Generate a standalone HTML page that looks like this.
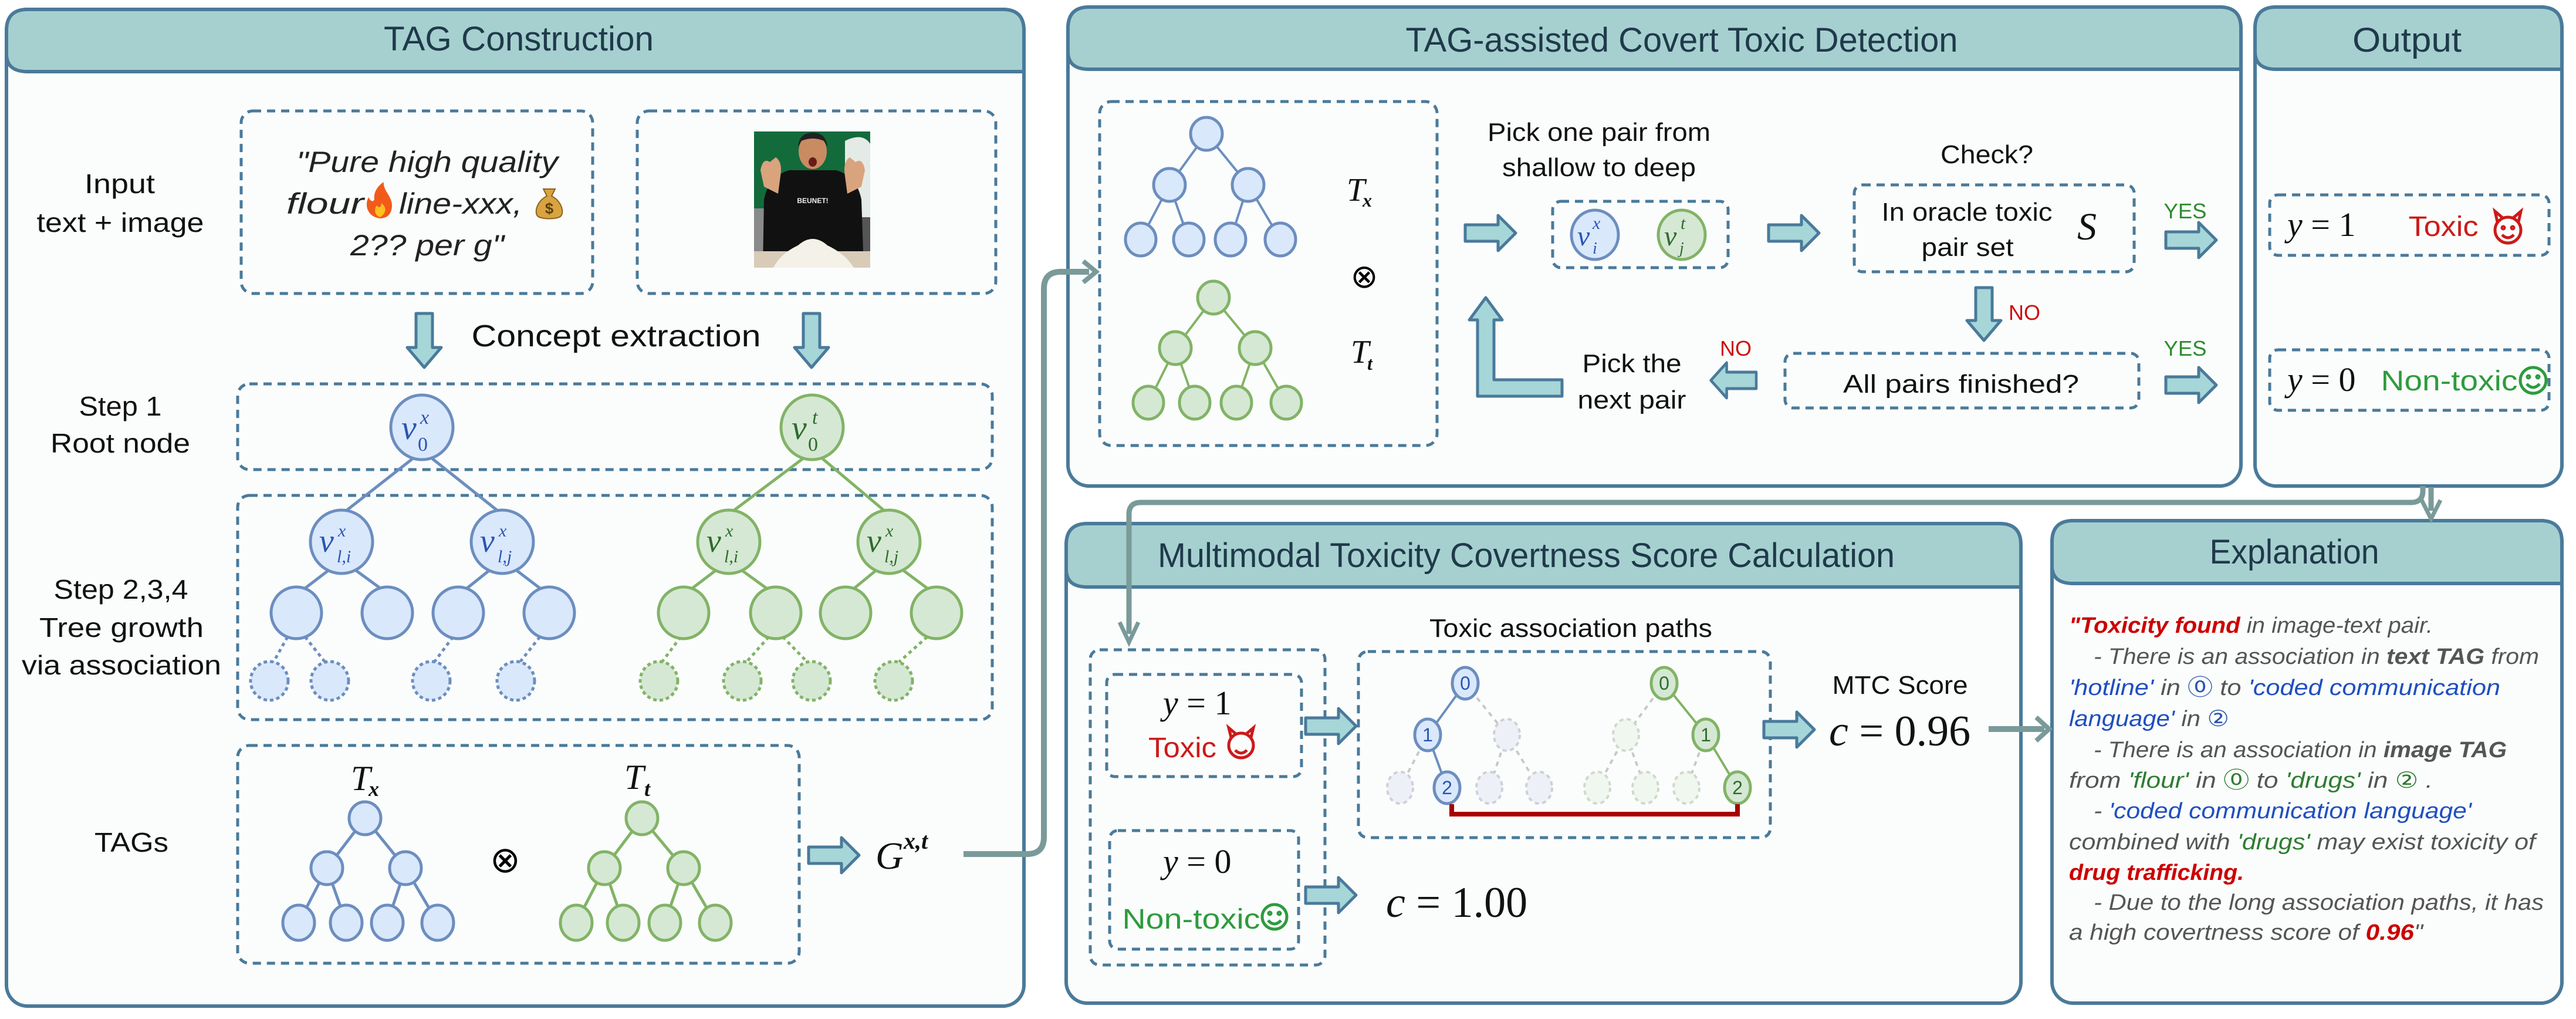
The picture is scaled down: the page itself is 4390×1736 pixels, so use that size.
<!DOCTYPE html>
<html><head><meta charset="utf-8"><style>
html,body{margin:0;padding:0;background:#fff}
svg{display:block}
.s{font-family:"Liberation Sans Narrow","Liberation Sans",sans-serif}
.m{font-family:"Liberation Serif",serif;font-style:italic}
.h{font-size:58px;fill:#1f3a4a}
.t{font-size:46px;fill:#111}
.e{font-family:"Liberation Sans Narrow","Liberation Sans",sans-serif;font-style:italic;font-size:38px;fill:#555}
</style></head><body>
<svg width="4390" height="1736" viewBox="0 0 4390 1736" xmlns="http://www.w3.org/2000/svg">
<defs>
<g id="ar"><path d="M0,-14 L56,-14 L56,-30 L86,0 L56,30 L56,14 L0,14 Z" fill="#a6d6d8" stroke="#4a7a9a" stroke-width="5" stroke-linejoin="round"/></g>
</defs>
<!-- panels -->
<g stroke="#4a7a9a" stroke-width="6">
<rect x="11" y="16" width="1734" height="1698" rx="36" fill="#fbfdfc"/>
<path d="M11,122 L11,52 Q11,16 47,16 L1709,16 Q1745,16 1745,52 L1745,122 Q1745,122 1709,122 L47,122 Q11,122 11,92Z" fill="#a6d0d0"/>
<rect x="1820" y="12" width="1999" height="816" rx="36" fill="#fbfdfc"/>
<path d="M1820,118 L1820,48 Q1820,12 1856,12 L3783,12 Q3819,12 3819,48 L3819,118 L1856,118 Q1820,118 1820,88Z" fill="#a6d0d0"/>
<rect x="3843" y="12" width="523" height="816" rx="36" fill="#fbfdfc"/>
<path d="M3843,118 L3843,48 Q3843,12 3879,12 L4330,12 Q4366,12 4366,48 L4366,118 L3879,118 Q3843,118 3843,88Z" fill="#a6d0d0"/>
<rect x="1817" y="892" width="1627" height="817" rx="36" fill="#fbfdfc"/>
<path d="M1817,1000 L1817,928 Q1817,892 1853,892 L3408,892 Q3444,892 3444,928 L3444,1000 L1853,1000 Q1817,1000 1817,970Z" fill="#a6d0d0"/>
<rect x="3497" y="887" width="869" height="822" rx="36" fill="#fbfdfc"/>
<path d="M3497,994 L3497,923 Q3497,887 3533,887 L4330,887 Q4366,887 4366,923 L4366,994 L3533,994 Q3497,994 3497,964Z" fill="#a6d0d0"/>
</g>
<g class="s h" text-anchor="middle">
<text x="884" y="86" textLength="460" lengthAdjust="spacingAndGlyphs">TAG Construction</text>
<text x="2866" y="88" textLength="941" lengthAdjust="spacingAndGlyphs">TAG-assisted Covert Toxic Detection</text>
<text x="4102" y="88" textLength="186" lengthAdjust="spacingAndGlyphs">Output</text>
<text x="2601" y="966" textLength="1256" lengthAdjust="spacingAndGlyphs">Multimodal Toxicity Covertness Score Calculation</text>
<text x="3910" y="960" textLength="289" lengthAdjust="spacingAndGlyphs">Explanation</text>
</g>

<!-- dashed boxes -->
<g fill="none" stroke="#4a7a9a" stroke-width="5" stroke-dasharray="14 10">
<rect x="411" y="189" width="599" height="311" rx="20"/>
<rect x="1086" y="189" width="611" height="311" rx="20"/>
<rect x="405" y="654" width="1286" height="146" rx="20"/>
<rect x="405" y="844" width="1286" height="382" rx="20"/>
<rect x="405" y="1270" width="957" height="371" rx="20"/>
<rect x="1874" y="173" width="575" height="586" rx="20"/>
<rect x="2646" y="343" width="299" height="113" rx="14"/>
<rect x="3160" y="315" width="477" height="148" rx="14"/>
<rect x="3042" y="602" width="603" height="93" rx="14"/>
<rect x="3868" y="332" width="476" height="103" rx="14"/>
<rect x="3868" y="596" width="476" height="103" rx="14"/>
<rect x="1858" y="1107" width="400" height="537" rx="16"/>
<rect x="1886" y="1149" width="332" height="174" rx="14"/>
<rect x="1891" y="1415" width="322" height="202" rx="14"/>
<rect x="2315" y="1110" width="702" height="317" rx="16"/>
</g>

<!-- TAG construction labels -->
<g class="s t" text-anchor="middle">
<text x="204" y="329" textLength="120" lengthAdjust="spacingAndGlyphs">Input</text>
<text x="205" y="395" textLength="285" lengthAdjust="spacingAndGlyphs">text + image</text>
<text x="205" y="708" textLength="141" lengthAdjust="spacingAndGlyphs">Step 1</text>
<text x="205" y="771" textLength="238" lengthAdjust="spacingAndGlyphs">Root node</text>
<text x="206" y="1020" textLength="229" lengthAdjust="spacingAndGlyphs">Step 2,3,4</text>
<text x="207" y="1085" textLength="280" lengthAdjust="spacingAndGlyphs">Tree growth</text>
<text x="207" y="1149" textLength="340" lengthAdjust="spacingAndGlyphs">via association</text>
<text x="224" y="1451" textLength="126" lengthAdjust="spacingAndGlyphs">TAGs</text>
<text x="1050" y="590" font-size="52" textLength="493" lengthAdjust="spacingAndGlyphs">Concept extraction</text>
</g>
<g class="s" font-style="italic" font-size="50" fill="#222">
<text x="505" y="293" textLength="446" lengthAdjust="spacingAndGlyphs">"Pure high quality</text>
<text x="488" y="364" textLength="132" lengthAdjust="spacingAndGlyphs">flour</text>
<text x="680" y="364" textLength="210" lengthAdjust="spacingAndGlyphs">line-xxx,</text>
<text x="597" y="435" textLength="262" lengthAdjust="spacingAndGlyphs">2?? per g"</text>
</g>
<!-- fire -->
<path d="M648,372 C628,370 620,352 628,336 C632,344 636,344 638,340 C636,328 644,316 654,310 C652,324 668,334 668,350 C668,364 660,372 648,372Z" fill="#f25a1a"/>
<path d="M648,370 C640,368 636,358 642,350 C646,356 650,352 650,346 C658,352 660,362 648,370Z" fill="#ffc020"/>
<!-- money bag -->
<path d="M926,322 L946,322 L940,334 C956,342 962,360 956,368 C950,374 922,374 916,368 C910,360 916,342 932,334Z" fill="#d9a340" stroke="#8a6420" stroke-width="2"/>
<text x="936" y="364" font-family="Liberation Sans" font-size="26" font-weight="bold" fill="#5a4010" text-anchor="middle">$</text>
<!-- image -->
<g>
<rect x="1285" y="224" width="198" height="232" fill="#136b3c"/>
<path d="M1440,240 Q1470,225 1483,245 L1483,370 L1440,370Z" fill="#e4ebe7"/>
<rect x="1285" y="355" width="24" height="80" fill="#8a8a8a"/>
<rect x="1455" y="370" width="28" height="70" fill="#555"/>
<path d="M1300,456 L1302,340 Q1310,300 1345,290 L1425,290 Q1460,300 1468,340 L1472,456Z" fill="#111"/>
<ellipse cx="1385" cy="258" rx="24" ry="30" fill="#c98b62"/>
<path d="M1360,250 Q1362,226 1385,226 Q1408,226 1410,250 L1404,240 Q1385,232 1366,240Z" fill="#222"/>
<ellipse cx="1385" cy="276" rx="7" ry="8" fill="#6a1a1a"/>
<path d="M1302,318 L1296,290 Q1300,268 1312,276 L1322,268 Q1334,276 1330,300 L1326,330Z" fill="#d9a37e"/>
<path d="M1468,318 L1474,290 Q1470,268 1458,276 L1448,268 Q1436,276 1440,300 L1444,330Z" fill="#d9a37e"/>
<text x="1385" y="346" font-family="Liberation Sans" font-weight="bold" font-size="12" fill="#eee" text-anchor="middle">BEUNET!</text>
<rect x="1285" y="428" width="198" height="28" fill="#d8cbb8"/>
<path d="M1318,456 Q1330,432 1360,418 Q1385,396 1410,418 Q1440,432 1455,456Z" fill="#f4f1e8"/>
</g>
<!-- down arrows -->
<g fill="#a6d6d8" stroke="#4a7a9a" stroke-width="5" stroke-linejoin="round">
<path d="M709,534 L737,534 L737,592 L752,592 L723,626 L694,592 L709,592Z"/>
<path d="M1369,534 L1397,534 L1397,592 L1412,592 L1383,626 L1354,592 L1369,592Z"/>
<path d="M3367,490 L3395,490 L3395,546 L3410,546 L3381,580 L3352,546 L3367,546Z"/>
<path d="M2532,507 L2560,545 L2546,545 L2546,647 L2662,647 L2662,675 L2518,675 L2518,545 L2504,545Z"/>
</g>

<!-- big trees -->
<g stroke="#6c8ebf" stroke-width="5" fill="none">
<line x1="705" y1="780" x2="590" y2="870"/><line x1="735" y1="780" x2="848" y2="870"/>
<line x1="562" y1="970" x2="520" y2="1002"/><line x1="604" y1="970" x2="648" y2="1002"/>
<line x1="836" y1="970" x2="796" y2="1002"/><line x1="878" y1="970" x2="920" y2="1002"/>
<g stroke-dasharray="6 6"><line x1="490" y1="1085" x2="466" y2="1128"/><line x1="520" y1="1085" x2="554" y2="1128"/><line x1="772" y1="1085" x2="740" y2="1128"/><line x1="920" y1="1085" x2="886" y2="1128"/></g>
</g>
<g stroke="#82b366" stroke-width="5" fill="none">
<line x1="1370" y1="780" x2="1250" y2="870"/><line x1="1400" y1="780" x2="1507" y2="870"/>
<line x1="1222" y1="970" x2="1180" y2="1002"/><line x1="1262" y1="970" x2="1306" y2="1002"/>
<line x1="1495" y1="970" x2="1456" y2="1002"/><line x1="1537" y1="970" x2="1580" y2="1002"/>
<g stroke-dasharray="6 6"><line x1="1160" y1="1085" x2="1128" y2="1128"/><line x1="1310" y1="1085" x2="1272" y2="1128"/><line x1="1334" y1="1085" x2="1376" y2="1128"/><line x1="1580" y1="1085" x2="1532" y2="1128"/></g>
</g>
<g fill="#dae8fc" stroke="#6c8ebf" stroke-width="5">
<ellipse cx="719" cy="728" rx="53" ry="55"/>
<ellipse cx="582" cy="923" rx="53" ry="54"/><ellipse cx="856" cy="923" rx="53" ry="54"/>
<ellipse cx="505" cy="1044" rx="43" ry="44"/><ellipse cx="660" cy="1044" rx="43" ry="44"/><ellipse cx="781" cy="1044" rx="43" ry="44"/><ellipse cx="936" cy="1044" rx="43" ry="44"/>
<g stroke-dasharray="6 5"><ellipse cx="459" cy="1160" rx="32" ry="33"/><ellipse cx="562" cy="1160" rx="32" ry="33"/><ellipse cx="735" cy="1160" rx="32" ry="33"/><ellipse cx="879" cy="1160" rx="32" ry="33"/></g>
</g>
<g fill="#d5e8d4" stroke="#82b366" stroke-width="5">
<ellipse cx="1384" cy="728" rx="53" ry="55"/>
<ellipse cx="1242" cy="923" rx="53" ry="54"/><ellipse cx="1515" cy="923" rx="53" ry="54"/>
<ellipse cx="1165" cy="1044" rx="43" ry="44"/><ellipse cx="1322" cy="1044" rx="43" ry="44"/><ellipse cx="1441" cy="1044" rx="43" ry="44"/><ellipse cx="1596" cy="1044" rx="43" ry="44"/>
<g stroke-dasharray="6 5"><ellipse cx="1123" cy="1160" rx="32" ry="33"/><ellipse cx="1265" cy="1160" rx="32" ry="33"/><ellipse cx="1383" cy="1160" rx="32" ry="33"/><ellipse cx="1523" cy="1160" rx="32" ry="33"/></g>
</g>
<g class="m" fill="#2a55b0">
<text x="684" y="748" font-size="58">v</text><text x="716" y="722" font-size="34">x</text><text x="712" y="768" font-size="34" font-style="normal">0</text>
<text x="544" y="940" font-size="56">v</text><text x="576" y="914" font-size="30">x</text><text x="574" y="958" font-size="30">l,i</text>
<text x="818" y="940" font-size="56">v</text><text x="850" y="914" font-size="30">x</text><text x="848" y="958" font-size="30">l,j</text>
</g>
<g class="m" fill="#2e6b2e">
<text x="1349" y="748" font-size="58">v</text><text x="1384" y="722" font-size="34">t</text><text x="1377" y="768" font-size="34" font-style="normal">0</text>
<text x="1204" y="940" font-size="56">v</text><text x="1236" y="914" font-size="30">x</text><text x="1234" y="958" font-size="30">l,i</text>
<text x="1477" y="940" font-size="56">v</text><text x="1509" y="914" font-size="30">x</text><text x="1507" y="958" font-size="30">l,j</text>
</g>

<!-- small trees (TAGs) -->
<g stroke="#6c8ebf" stroke-width="5"><line x1="622" y1="1394" x2="557" y2="1479"/><line x1="622" y1="1394" x2="691" y2="1479"/><line x1="557" y1="1479" x2="509" y2="1572"/><line x1="557" y1="1479" x2="590" y2="1572"/><line x1="691" y1="1479" x2="660" y2="1572"/><line x1="691" y1="1479" x2="746" y2="1572"/></g>
<g fill="#dae8fc" stroke="#6c8ebf" stroke-width="5"><ellipse cx="622" cy="1394" rx="27" ry="28"/><ellipse cx="557" cy="1479" rx="27" ry="28"/><ellipse cx="691" cy="1479" rx="27" ry="28"/><ellipse cx="509" cy="1572" rx="27" ry="30"/><ellipse cx="590" cy="1572" rx="27" ry="30"/><ellipse cx="660" cy="1572" rx="27" ry="30"/><ellipse cx="746" cy="1572" rx="27" ry="30"/></g>
<g stroke="#82b366" stroke-width="5"><line x1="1094" y1="1394" x2="1030" y2="1479"/><line x1="1094" y1="1394" x2="1165" y2="1479"/><line x1="1030" y1="1479" x2="982" y2="1572"/><line x1="1030" y1="1479" x2="1062" y2="1572"/><line x1="1165" y1="1479" x2="1133" y2="1572"/><line x1="1165" y1="1479" x2="1219" y2="1572"/></g>
<g fill="#d5e8d4" stroke="#82b366" stroke-width="5"><ellipse cx="1094" cy="1394" rx="27" ry="28"/><ellipse cx="1030" cy="1479" rx="27" ry="28"/><ellipse cx="1165" cy="1479" rx="27" ry="28"/><ellipse cx="982" cy="1572" rx="27" ry="30"/><ellipse cx="1062" cy="1572" rx="27" ry="30"/><ellipse cx="1133" cy="1572" rx="27" ry="30"/><ellipse cx="1219" cy="1572" rx="27" ry="30"/></g>
<g class="m" fill="#111">
<text x="598" y="1346" font-size="60">T</text><text x="628" y="1356" font-size="36" font-weight="bold">x</text>
<text x="1064" y="1344" font-size="60">T</text><text x="1098" y="1356" font-size="36" font-weight="bold">t</text>
<text x="1492" y="1480" font-size="66">G</text><text x="1540" y="1446" font-size="40" font-weight="bold">x,t</text>
</g>
<text x="861" y="1486" font-family="DejaVu Sans" font-size="62" text-anchor="middle">⊗</text>
<use href="#ar" x="1378" y="1457"/>
<!-- connector G -> detection -->
<path d="M1642,1455 L1750,1455 Q1779,1455 1779,1426 L1779,492 Q1779,463 1808,463 L1856,463" fill="none" stroke="#7a9a9a" stroke-width="10"/>
<path d="M1846,445 L1868,463 L1846,481" fill="none" stroke="#7a9a9a" stroke-width="8"/>

<!-- detection trees -->
<g stroke="#6c8ebf" stroke-width="4"><line x1="2056" y1="228" x2="1993" y2="315"/><line x1="2056" y1="228" x2="2127" y2="315"/><line x1="1993" y1="315" x2="1944" y2="408"/><line x1="1993" y1="315" x2="2026" y2="408"/><line x1="2127" y1="315" x2="2097" y2="408"/><line x1="2127" y1="315" x2="2182" y2="408"/></g>
<g fill="#dae8fc" stroke="#6c8ebf" stroke-width="5"><ellipse cx="2056" cy="228" rx="27" ry="28"/><ellipse cx="1993" cy="315" rx="27" ry="28"/><ellipse cx="2127" cy="315" rx="27" ry="28"/><ellipse cx="1944" cy="408" rx="26" ry="28"/><ellipse cx="2026" cy="408" rx="26" ry="28"/><ellipse cx="2097" cy="408" rx="26" ry="28"/><ellipse cx="2182" cy="408" rx="26" ry="28"/></g>
<g stroke="#82b366" stroke-width="4"><line x1="2068" y1="507" x2="2003" y2="593"/><line x1="2068" y1="507" x2="2139" y2="593"/><line x1="2003" y1="593" x2="1957" y2="686"/><line x1="2003" y1="593" x2="2036" y2="686"/><line x1="2139" y1="593" x2="2107" y2="686"/><line x1="2139" y1="593" x2="2192" y2="686"/></g>
<g fill="#d5e8d4" stroke="#82b366" stroke-width="5"><ellipse cx="2068" cy="507" rx="27" ry="28"/><ellipse cx="2003" cy="593" rx="27" ry="28"/><ellipse cx="2139" cy="593" rx="27" ry="28"/><ellipse cx="1957" cy="686" rx="26" ry="28"/><ellipse cx="2036" cy="686" rx="26" ry="28"/><ellipse cx="2107" cy="686" rx="26" ry="28"/><ellipse cx="2192" cy="686" rx="26" ry="28"/></g>
<g class="m" fill="#111">
<text x="2295" y="342" font-size="56">T</text><text x="2322" y="352" font-size="32" font-weight="bold">x</text>
<text x="2302" y="618" font-size="56">T</text><text x="2330" y="630" font-size="32" font-weight="bold">t</text>
<text x="3540" y="408" font-size="66">S</text>
<text x="3898" y="402" font-size="58">y <tspan font-style="normal">= 1</tspan></text>
<text x="3898" y="666" font-size="58">y <tspan font-style="normal">= 0</tspan></text>
</g>
<text x="2325" y="490" font-family="DejaVu Sans" font-size="56" text-anchor="middle">⊗</text>
<use href="#ar" x="2497" y="397"/><use href="#ar" x="3014" y="397"/>
<use href="#ar" x="3691" y="409"/><use href="#ar" x="3691" y="656"/>
<use href="#ar" transform="translate(2993,648) scale(-0.9,1)"/>
<ellipse cx="2718" cy="400" rx="40" ry="42" fill="#dae8fc" stroke="#6c8ebf" stroke-width="5"/>
<ellipse cx="2866" cy="400" rx="40" ry="42" fill="#d5e8d4" stroke="#82b366" stroke-width="5"/>
<g class="m"><text x="2688" y="418" font-size="48" fill="#2a55b0">v</text><text x="2714" y="390" font-size="30" fill="#2a55b0">x</text><text x="2714" y="432" font-size="28" fill="#2a55b0">i</text>
<text x="2836" y="418" font-size="48" fill="#2e6b2e">v</text><text x="2864" y="390" font-size="30" fill="#2e6b2e">t</text><text x="2862" y="432" font-size="28" fill="#2e6b2e">j</text></g>
<g class="s" font-size="44" fill="#111" text-anchor="middle">
<text x="2725" y="240" textLength="380" lengthAdjust="spacingAndGlyphs">Pick one pair from</text>
<text x="2725" y="300" textLength="330" lengthAdjust="spacingAndGlyphs">shallow to deep</text>
<text x="3386" y="278" textLength="158" lengthAdjust="spacingAndGlyphs">Check?</text>
<text x="3352" y="376" textLength="291" lengthAdjust="spacingAndGlyphs">In oracle toxic</text>
<text x="3353" y="436" textLength="157" lengthAdjust="spacingAndGlyphs">pair set</text>
<text x="3342" y="669" textLength="402" lengthAdjust="spacingAndGlyphs">All pairs finished?</text>
<text x="2781" y="634" textLength="169" lengthAdjust="spacingAndGlyphs">Pick the</text>
<text x="2781" y="696" textLength="185" lengthAdjust="spacingAndGlyphs">next pair</text>
<g font-size="36" fill="#2e8b2e"><text x="3724" y="372" textLength="73" lengthAdjust="spacingAndGlyphs">YES</text><text x="3724" y="606" textLength="73" lengthAdjust="spacingAndGlyphs">YES</text></g>
<g font-size="36" fill="#cc1010"><text x="3450" y="545">NO</text><text x="2958" y="606">NO</text></g>
<text x="4164" y="402" fill="#cc1a1a" font-size="48" textLength="119" lengthAdjust="spacingAndGlyphs">Toxic</text>
<text x="4174" y="665" fill="#2e9b3e" font-size="48" textLength="233" lengthAdjust="spacingAndGlyphs">Non-toxic</text>
</g>
<!-- devil & smiley icons -->
<g fill="none" stroke="#cc1a1a" stroke-width="5">
<circle cx="4274" cy="392" r="22"/><path d="M4256,378 L4252,360 L4266,372 M4292,378 L4296,360 L4282,372"/><path d="M4264,400 Q4274,410 4284,400"/><circle cx="4266" cy="388" r="2"/><circle cx="4282" cy="388" r="2"/>
</g>
<g fill="none" stroke="#2e9b3e" stroke-width="5">
<circle cx="4317" cy="648" r="22"/><path d="M4306,654 Q4317,666 4328,654"/><circle cx="4309" cy="642" r="2"/><circle cx="4325" cy="642" r="2"/>
</g>

<!-- output connectors -->
<path d="M4129,828 L4129,836 Q4129,856 4109,856 L1944,856 Q1924,856 1924,876 L1924,1080" fill="none" stroke="#7a9a9a" stroke-width="9"/>
<path d="M1908,1060 L1924,1094 L1940,1060" fill="none" stroke="#7a9a9a" stroke-width="7"/>
<path d="M4143,830 L4143,870" fill="none" stroke="#7a9a9a" stroke-width="9"/>
<path d="M4127,852 L4143,884 L4159,852" fill="none" stroke="#7a9a9a" stroke-width="7"/>

<!-- MTC -->
<g class="m" fill="#111">
<text x="1982" y="1217" font-size="58">y <tspan font-style="normal">= 1</tspan></text>
<text x="1982" y="1487" font-size="58">y <tspan font-style="normal">= 0</tspan></text>
<text x="3117" y="1270" font-size="74">c <tspan font-style="normal">= 0.96</tspan></text>
<text x="2362" y="1562" font-size="74">c <tspan font-style="normal">= 1.00</tspan></text>
</g>
<g class="s" text-anchor="middle">
<text x="2015" y="1290" fill="#cc1a1a" font-size="48" textLength="116" lengthAdjust="spacingAndGlyphs">Toxic</text>
<text x="2030" y="1582" fill="#2e9b3e" font-size="48" textLength="235" lengthAdjust="spacingAndGlyphs">Non-toxic</text>
<text x="2677" y="1085" fill="#111" font-size="44" textLength="482" lengthAdjust="spacingAndGlyphs">Toxic association paths</text>
<text x="3238" y="1182" fill="#111" font-size="44" textLength="231" lengthAdjust="spacingAndGlyphs">MTC Score</text>
</g>
<g fill="none" stroke="#cc1a1a" stroke-width="5">
<circle cx="2115" cy="1270" r="21"/><path d="M2098,1256 L2094,1240 L2107,1251 M2132,1256 L2136,1240 L2123,1251"/><path d="M2105,1278 Q2115,1288 2125,1278"/>
</g>
<g fill="none" stroke="#2e9b3e" stroke-width="5">
<circle cx="2172" cy="1562" r="21"/><path d="M2161,1568 Q2172,1580 2183,1568"/><circle cx="2164" cy="1556" r="2"/><circle cx="2180" cy="1556" r="2"/>
</g>
<use href="#ar" x="2225" y="1237"/><use href="#ar" x="2225" y="1525"/><use href="#ar" x="3006" y="1243"/>
<!-- paths tree -->
<g stroke="#c8c8c8" stroke-width="4" stroke-dasharray="8 8">
<line x1="2497" y1="1164" x2="2568" y2="1252"/><line x1="2433" y1="1252" x2="2386" y2="1342"/><line x1="2568" y1="1252" x2="2538" y2="1342"/><line x1="2568" y1="1252" x2="2623" y2="1342"/>
<line x1="2836" y1="1164" x2="2771" y2="1252"/><line x1="2771" y1="1252" x2="2722" y2="1342"/><line x1="2771" y1="1252" x2="2804" y2="1342"/><line x1="2907" y1="1252" x2="2874" y2="1342"/>
</g>
<g stroke="#6c8ebf" stroke-width="4"><line x1="2497" y1="1164" x2="2433" y2="1252"/><line x1="2433" y1="1252" x2="2466" y2="1342"/></g>
<g stroke="#82b366" stroke-width="4"><line x1="2836" y1="1164" x2="2907" y2="1252"/><line x1="2907" y1="1252" x2="2961" y2="1342"/></g>
<g fill="#eef0f8" stroke="#cfcfd8" stroke-width="4" stroke-dasharray="7 6">
<ellipse cx="2568" cy="1252" rx="22" ry="27"/><ellipse cx="2386" cy="1342" rx="22" ry="27"/><ellipse cx="2538" cy="1342" rx="22" ry="27"/><ellipse cx="2623" cy="1342" rx="22" ry="27"/>
</g>
<g fill="#f0f7ee" stroke="#d0d8cc" stroke-width="4" stroke-dasharray="7 6">
<ellipse cx="2771" cy="1252" rx="22" ry="27"/><ellipse cx="2722" cy="1342" rx="22" ry="27"/><ellipse cx="2804" cy="1342" rx="22" ry="27"/><ellipse cx="2874" cy="1342" rx="22" ry="27"/>
</g>
<g fill="#dae8fc" stroke="#6c8ebf" stroke-width="5"><ellipse cx="2497" cy="1164" rx="22" ry="27"/><ellipse cx="2433" cy="1252" rx="22" ry="27"/><ellipse cx="2466" cy="1342" rx="22" ry="27"/></g>
<g fill="#d5e8d4" stroke="#82b366" stroke-width="5"><ellipse cx="2836" cy="1164" rx="22" ry="27"/><ellipse cx="2907" cy="1252" rx="22" ry="27"/><ellipse cx="2961" cy="1342" rx="22" ry="27"/></g>
<g class="s" font-size="32" text-anchor="middle">
<g fill="#2a55b0"><text x="2497" y="1175">0</text><text x="2433" y="1263">1</text><text x="2466" y="1353">2</text></g>
<g fill="#2e6b2e"><text x="2836" y="1175">0</text><text x="2907" y="1263">1</text><text x="2961" y="1353">2</text></g>
</g>
<path d="M2474,1370 L2474,1387 L2961,1387 L2961,1370" fill="none" stroke="#a80000" stroke-width="8"/>
<!-- grey arrow to explanation -->
<path d="M3389,1242 L3484,1242" stroke="#7a9a9a" stroke-width="10"/>
<path d="M3470,1222 L3492,1242 L3470,1262" fill="none" stroke="#7a9a9a" stroke-width="8"/>

<!-- explanation text -->
<g class="e">
<text x="3526" y="1078" textLength="620" lengthAdjust="spacingAndGlyphs"><tspan fill="#cc0000" font-weight="bold">"Toxicity found</tspan> in image-text pair.</text>
<text x="3568" y="1131" textLength="759" lengthAdjust="spacingAndGlyphs">- There is an association in <tspan font-weight="bold">text TAG</tspan> from</text>
<text x="3526" y="1184" textLength="735" lengthAdjust="spacingAndGlyphs"><tspan fill="#1f4fbf">'hotline'</tspan> in <tspan fill="#2a55b0" font-style="normal" font-family="DejaVu Sans">⓪</tspan> to <tspan fill="#1f4fbf">'coded communication</tspan></text>
<text x="3526" y="1237" textLength="273" lengthAdjust="spacingAndGlyphs"><tspan fill="#1f4fbf">language'</tspan> in <tspan fill="#2a55b0" font-style="normal" font-family="DejaVu Sans">②</tspan></text>
<text x="3568" y="1290" textLength="704" lengthAdjust="spacingAndGlyphs">- There is an association in <tspan font-weight="bold">image TAG</tspan></text>
<text x="3526" y="1342" textLength="620" lengthAdjust="spacingAndGlyphs">from <tspan fill="#2e7d32">'flour'</tspan> in <tspan fill="#2e7d32" font-style="normal" font-family="DejaVu Sans">⓪</tspan> to <tspan fill="#2e7d32">'drugs'</tspan> in <tspan fill="#2e7d32" font-style="normal" font-family="DejaVu Sans">②</tspan> .</text>
<text x="3568" y="1394" textLength="644" lengthAdjust="spacingAndGlyphs">- <tspan fill="#1f4fbf">'coded communication language'</tspan></text>
<text x="3526" y="1447" textLength="795" lengthAdjust="spacingAndGlyphs">combined with <tspan fill="#2e7d32">'drugs'</tspan> may exist toxicity of</text>
<text x="3526" y="1499" textLength="298" lengthAdjust="spacingAndGlyphs" fill="#cc0000" font-weight="bold">drug trafficking.</text>
<text x="3568" y="1550" textLength="767" lengthAdjust="spacingAndGlyphs">- Due to the long association paths, it has</text>
<text x="3526" y="1601" textLength="603" lengthAdjust="spacingAndGlyphs">a high covertness score of <tspan fill="#cc0000" font-weight="bold">0.96</tspan>"</text>
</g>
</svg>
</body></html>
